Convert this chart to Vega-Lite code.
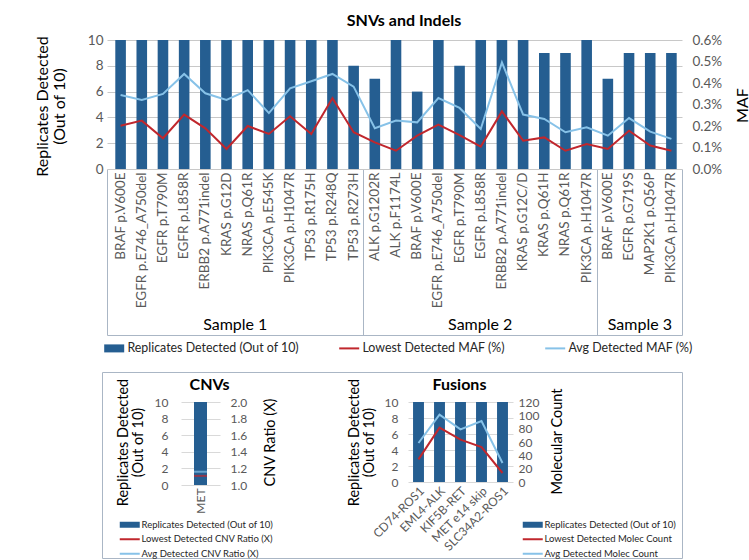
{
  "$schema": "https://vega.github.io/schema/vega-lite/v6.json",
  "width": 749,
  "height": 560,
  "autosize": {"type": "none"},
  "padding": 0,
  "background": "white",
  "config": {
    "font": "Lato",
    "view": {"stroke": null},
    "axis": {"labelFont": "Lato", "titleFont": "Lato", "labelOverlap": false, "grid": false, "labelLimit": 300},
    "legend": {"labelFont": "Lato", "labelLimit": 400}
  },
  "datasets": {
    "snv": [
      {"key": "01|BRAF p.V600E", "sample": "Sample 1", "replicates": 10, "lowest": 0.201, "avg": 0.344},
      {"key": "02|EGFR p.E746_A750del", "sample": "Sample 1", "replicates": 10, "lowest": 0.225, "avg": 0.321},
      {"key": "03|EGFR p.T790M", "sample": "Sample 1", "replicates": 10, "lowest": 0.143, "avg": 0.349},
      {"key": "04|EGFR p.L858R", "sample": "Sample 1", "replicates": 10, "lowest": 0.253, "avg": 0.442},
      {"key": "05|ERBB2 p.A771indel", "sample": "Sample 1", "replicates": 10, "lowest": 0.189, "avg": 0.352},
      {"key": "06|KRAS p.G12D", "sample": "Sample 1", "replicates": 10, "lowest": 0.093, "avg": 0.321},
      {"key": "07|NRAS p.Q61R", "sample": "Sample 1", "replicates": 10, "lowest": 0.2, "avg": 0.367},
      {"key": "08|PIK3CA p.E545K", "sample": "Sample 1", "replicates": 10, "lowest": 0.163, "avg": 0.26},
      {"key": "09|PIK3CA p.H1047R", "sample": "Sample 1", "replicates": 10, "lowest": 0.245, "avg": 0.375},
      {"key": "10|TP53 p.R175H", "sample": "Sample 1", "replicates": 10, "lowest": 0.163, "avg": 0.408},
      {"key": "11|TP53 p.R248Q", "sample": "Sample 1", "replicates": 10, "lowest": 0.329, "avg": 0.442},
      {"key": "12|TP53 p.R273H", "sample": "Sample 1", "replicates": 8, "lowest": 0.171, "avg": 0.383},
      {"key": "13|ALK p.G1202R", "sample": "Sample 2", "replicates": 7, "lowest": 0.124, "avg": 0.19},
      {"key": "14|ALK p.F1174L", "sample": "Sample 2", "replicates": 10, "lowest": 0.085, "avg": 0.225},
      {"key": "15|BRAF p.V600E", "sample": "Sample 2", "replicates": 6, "lowest": 0.155, "avg": 0.217},
      {"key": "16|EGFR p.E746_A750del", "sample": "Sample 2", "replicates": 10, "lowest": 0.206, "avg": 0.33},
      {"key": "17|EGFR p.T790M", "sample": "Sample 2", "replicates": 8, "lowest": 0.158, "avg": 0.284},
      {"key": "18|EGFR p.L858R", "sample": "Sample 2", "replicates": 10, "lowest": 0.104, "avg": 0.186},
      {"key": "19|ERBB2 p.A771indel", "sample": "Sample 2", "replicates": 10, "lowest": 0.268, "avg": 0.496},
      {"key": "20|KRAS p.G12C/D", "sample": "Sample 2", "replicates": 10, "lowest": 0.132, "avg": 0.253},
      {"key": "21|KRAS p.Q61H", "sample": "Sample 2", "replicates": 9, "lowest": 0.147, "avg": 0.233},
      {"key": "22|NRAS p.Q61R", "sample": "Sample 2", "replicates": 9, "lowest": 0.085, "avg": 0.171},
      {"key": "23|PIK3CA p.H1047R", "sample": "Sample 2", "replicates": 10, "lowest": 0.116, "avg": 0.194},
      {"key": "24|BRAF p.V600E", "sample": "Sample 3", "replicates": 7, "lowest": 0.093, "avg": 0.155},
      {"key": "25|EGFR p.G719S", "sample": "Sample 3", "replicates": 9, "lowest": 0.178, "avg": 0.237},
      {"key": "26|MAP2K1 p.Q56P", "sample": "Sample 3", "replicates": 9, "lowest": 0.109, "avg": 0.174},
      {"key": "27|PIK3CA p.H1047R", "sample": "Sample 3", "replicates": 9, "lowest": 0.085, "avg": 0.14}
    ],
    "cnv": [
      {"variant": "MET", "replicates": 10, "lowest": 1.11, "avg": 1.16}
    ],
    "fusion": [
      {"fusion": "CD74-ROS1", "replicates": 10, "lowest": 34, "avg": 58.5},
      {"fusion": "EML4-ALK", "replicates": 10, "lowest": 81.5, "avg": 101},
      {"fusion": "KIF5B-RET", "replicates": 10, "lowest": 63.5, "avg": 79},
      {"fusion": "MET e14 skip", "replicates": 10, "lowest": 52.5, "avg": 91.5},
      {"fusion": "SLC34A2-ROS1", "replicates": 10, "lowest": 13.5, "avg": 28.5}
    ],
    "titles": [{"t": "CNVs"}, {"t": "Fusions"}]
  },
  "layer": [
    {
      "data": {"values": [{}]},
      "mark": {"type": "rect", "filled": false, "stroke": "#aab6c5", "strokeWidth": 1},
      "encoding": {
        "x": {"datum": 0, "type": "quantitative", "scale": {"domain": [0, 1], "range": [102.5, 682.5], "nice": false, "zero": false}, "axis": null},
        "x2": {"datum": 1},
        "y": {"datum": 0, "type": "quantitative", "scale": {"domain": [0, 1], "range": [558.5, 372.5], "nice": false, "zero": false}, "axis": null},
        "y2": {"datum": 1}
      }
    },
    {
      "data": {"name": "snv"},
      "encoding": {
        "x": {
          "field": "key", "type": "nominal",
          "scale": {"range": [110, 682], "paddingInner": 0.5, "paddingOuter": 0.25},
          "axis": {"orient": "bottom", "offset": -391, "title": null, "labelAngle": 270, "labelExpr": "split(datum.label, '|')[1]", "labelFontSize": 13.5, "labelColor": "#595959", "labelPadding": 3, "ticks": false, "tickSize": 0, "domain": false}
        }
      },
      "layer": [
        {
          "mark": {"type": "bar"},
          "encoding": {
            "y": {
              "field": "replicates", "type": "quantitative",
              "scale": {"domain": [0, 10], "range": [169, 40], "nice": false},
              "axis": {"orient": "left", "offset": -682, "values": [0, 2, 4, 6, 8, 10], "tickSize": 575, "tickColor": "#c8c8c8", "domain": false, "labelPadding": 4, "labelFontSize": 13.5, "labelColor": "#595959", "title": ["Replicates Detected", "(Out of 10)"], "titleFontSize": 16, "titleFontWeight": "normal", "titleColor": "#000000", "titleX": -640, "titleY": 106, "titleAngle": 270, "titleAlign": "center", "titleBaseline": "middle", "titleLineHeight": 17}
            },
            "color": {
              "datum": "Replicates Detected (Out of 10)",
              "title": null,
              "scale": {"domain": ["Replicates Detected (Out of 10)", "lowest", "avg"], "range": ["#255e91", "#c0272d", "#87c2e8"]},
              "legend": {
                "orient": "none", "legendX": 108, "legendY": 342, "direction": "horizontal", "title": null, "padding": 0,
                "labelExpr": "datum.label == 'lowest' ? 'Lowest Detected MAF (%)' : datum.label == 'avg' ? 'Avg Detected MAF (%)' : datum.label",
                "labelFontSize": 12.4, "labelColor": "#262626", "symbolSize": 100, "labelOffset": 7, "columnPadding": 36,
                "encode": {"symbols": {"update": {
                  "shape": {"signal": "datum.value == 'lowest' || datum.value == 'avg' ? 'M-2,0H2' : 'M-2,-0.8H2V0.8H-2Z'"},
                  "fill": {"signal": "datum.value == 'lowest' || datum.value == 'avg' ? 'transparent' : '#255e91'"},
                  "stroke": {"signal": "datum.value == 'lowest' ? '#c0272d' : datum.value == 'avg' ? '#87c2e8' : 'transparent'"},
                  "strokeWidth": {"signal": "datum.value == 'lowest' || datum.value == 'avg' ? 2 : 0"},
                  "opacity": {"value": 1}
                }}}
              }
            }
          }
        },
        {
          "transform": [{"fold": ["lowest", "avg"], "as": ["series", "maf"]}],
          "mark": {"type": "line", "strokeWidth": 2},
          "encoding": {
            "y": {
              "field": "maf", "type": "quantitative",
              "scale": {"domain": [0, 0.6], "range": [169, 40], "nice": false, "zero": false},
              "axis": {"orient": "right", "offset": -67, "values": [0, 0.1, 0.2, 0.3, 0.4, 0.5, 0.6], "labelExpr": "format(datum.value, '.1f') + '%'", "ticks": false, "domain": false, "labelPadding": 10, "labelFontSize": 13.5, "labelColor": "#595959", "title": "MAF", "titleFontSize": 16, "titleFontWeight": "normal", "titleColor": "#000000", "titleX": 60, "titleY": 105, "titleAngle": 270, "titleAlign": "center", "titleBaseline": "middle"}
            },
            "color": {"field": "series", "type": "nominal", "title": null}
          }
        }
      ],
      "resolve": {"scale": {"y": "independent"}}
    },
    {
      "data": {"values": [{}]},
      "mark": {"type": "rule", "opacity": 0},
      "encoding": {
        "x": {"datum": 0, "type": "quantitative", "scale": {"domain": [0, 27], "range": [107, 682], "nice": false, "zero": false},
          "axis": {"orient": "top", "offset": -335, "values": [0, 12, 23, 27], "tickSize": 166, "tickColor": "#aab6c5", "domainColor": "#aab6c5", "labels": false, "title": null}}
      }
    },
    {
      "data": {"values": [{}]},
      "mark": {"type": "rule", "opacity": 0},
      "encoding": {
        "x": {"datum": 0, "type": "quantitative", "scale": {"domain": [0, 27], "range": [107, 682], "nice": false, "zero": false},
          "axis": {"orient": "top", "offset": -335, "values": [6, 17.5, 25], "ticks": false, "domain": false, "labelAngle": 0, "labelExpr": "datum.value < 10 ? 'Sample 1' : datum.value < 20 ? 'Sample 2' : 'Sample 3'", "labelFontSize": 16, "labelColor": "#000000", "labelPadding": 3, "title": null}}
      }
    },
    {
      "data": {"values": [{}]},
      "mark": {"type": "point", "opacity": 0},
      "encoding": {
        "x": {"datum": "SNVs and Indels", "type": "nominal", "scale": {"range": [345, 462]},
          "axis": {"orient": "top", "offset": -28, "domain": false, "ticks": false, "labelAngle": 0, "labelAlign": "center", "labelBaseline": "bottom", "labelFontSize": 16, "labelFontWeight": "bold", "labelColor": "#000000", "labelPadding": 0, "title": null}}
      }
    },
    {
      "data": {"name": "titles"},
      "mark": {"type": "point", "opacity": 0},
      "encoding": {
        "x": {"field": "t", "type": "nominal", "scale": {"range": [209, 459], "padding": 0},
          "axis": {"orient": "top", "offset": -392, "domain": false, "ticks": false, "labelAngle": 0, "labelAlign": "center", "labelBaseline": "bottom", "labelFontSize": 16, "labelFontWeight": "bold", "labelColor": "#000000", "labelPadding": 0, "title": null}}
      }
    },
    {
      "data": {"name": "cnv"},
      "encoding": {
        "x": {
          "field": "variant", "type": "nominal",
          "scale": {"range": [181, 220], "paddingInner": 0, "paddingOuter": 0},
          "axis": {"orient": "bottom", "offset": -75, "title": null, "labelAngle": 270, "labelFontSize": 12, "labelColor": "#595959", "labelPadding": 3, "ticks": false, "tickSize": 0, "domain": false}
        }
      },
      "layer": [
        {
          "mark": {"type": "bar", "width": 13},
          "encoding": {
            "y": {
              "field": "replicates", "type": "quantitative",
              "scale": {"domain": [0, 10], "range": [485, 402], "nice": false},
              "axis": {"orient": "left", "offset": -220, "values": [0, 2, 4, 6, 8, 10], "tickSize": 39, "tickColor": "#d9d9d9", "domain": false, "labelPadding": 13, "labelFontSize": 12, "labelColor": "#595959", "title": ["Replicates Detected", "(Out of 10)"], "titleFontSize": 14.5, "titleFontWeight": "normal", "titleColor": "#000000", "titleX": -97, "titleY": 442, "titleAngle": 270, "titleAlign": "center", "titleBaseline": "middle", "titleLineHeight": 15}
            },
            "color": {
              "datum": "Replicates Detected (Out of 10)",
              "title": null,
              "scale": {"domain": ["Replicates Detected (Out of 10)", "lowest", "avg"], "range": ["#255e91", "#c0272d", "#87c2e8"]},
              "legend": {
                "orient": "none", "legendX": 125, "legendY": 520, "direction": "vertical", "title": null, "padding": 0,
                "labelExpr": "datum.label == 'lowest' ? 'Lowest Detected CNV Ratio (X)' : datum.label == 'avg' ? 'Avg Detected CNV Ratio (X)' : datum.label",
                "labelFontSize": 9.5, "labelColor": "#262626", "symbolSize": 100, "labelOffset": 7, "rowPadding": 3.5,
                "encode": {"symbols": {"update": {
                  "shape": {"signal": "datum.value == 'lowest' || datum.value == 'avg' ? 'M-2,0H2' : 'M-2,-0.6H2V0.6H-2Z'"},
                  "fill": {"signal": "datum.value == 'lowest' || datum.value == 'avg' ? 'transparent' : '#255e91'"},
                  "stroke": {"signal": "datum.value == 'lowest' ? '#c0272d' : datum.value == 'avg' ? '#87c2e8' : 'transparent'"},
                  "strokeWidth": {"signal": "datum.value == 'lowest' || datum.value == 'avg' ? 2 : 0"},
                  "opacity": {"value": 1}
                }}}
              }
            }
          }
        },
        {
          "transform": [{"fold": ["lowest", "avg"], "as": ["series", "ratio"]}],
          "mark": {"type": "tick", "thickness": 2, "size": 13},
          "encoding": {
            "y": {
              "field": "ratio", "type": "quantitative",
              "scale": {"domain": [1, 2], "range": [485, 402], "nice": false, "zero": false},
              "axis": {"orient": "right", "offset": -529, "values": [1, 1.2, 1.4, 1.6, 1.8, 2], "format": ".1f", "ticks": false, "domain": false, "labelPadding": 10, "labelFontSize": 12, "labelColor": "#595959", "title": "CNV Ratio (X)", "titleFontSize": 14.5, "titleFontWeight": "normal", "titleColor": "#000000", "titleX": 50, "titleY": 442, "titleAngle": 270, "titleAlign": "center", "titleBaseline": "middle"}
            },
            "color": {"field": "series", "type": "nominal", "title": null}
          }
        }
      ],
      "resolve": {"scale": {"y": "independent"}}
    },
    {
      "data": {"name": "fusion"},
      "encoding": {
        "x": {
          "field": "fusion", "type": "nominal",
          "scale": {"range": [408, 513], "paddingInner": 0.48, "paddingOuter": 0.24},
          "axis": {"orient": "bottom", "offset": -78, "title": null, "labelAngle": 315, "labelFontSize": 12, "labelColor": "#595959", "labelPadding": 3, "ticks": false, "tickSize": 0, "domain": false}
        }
      },
      "layer": [
        {
          "mark": {"type": "bar"},
          "encoding": {
            "y": {
              "field": "replicates", "type": "quantitative",
              "scale": {"domain": [0, 10], "range": [482, 402], "nice": false},
              "axis": {"orient": "left", "offset": -513, "values": [0, 2, 4, 6, 8, 10], "tickSize": 105, "tickColor": "#d9d9d9", "domain": false, "labelPadding": 10, "labelFontSize": 12, "labelColor": "#595959", "title": ["Replicates Detected", "(Out of 10)"], "titleFontSize": 14.5, "titleFontWeight": "normal", "titleColor": "#000000", "titleX": -159, "titleY": 442, "titleAngle": 270, "titleAlign": "center", "titleBaseline": "middle", "titleLineHeight": 15}
            },
            "color": {
              "datum": "Replicates Detected (Out of 10)",
              "title": null,
              "scale": {"domain": ["Replicates Detected (Out of 10)", "lowest", "avg"], "range": ["#255e91", "#c0272d", "#87c2e8"]},
              "legend": {
                "orient": "none", "legendX": 528, "legendY": 520, "direction": "vertical", "title": null, "padding": 0,
                "labelExpr": "datum.label == 'lowest' ? 'Lowest Detected Molec Count' : datum.label == 'avg' ? 'Avg Detected Molec Count' : datum.label",
                "labelFontSize": 9.5, "labelColor": "#262626", "symbolSize": 100, "labelOffset": 7, "rowPadding": 3.5,
                "encode": {"symbols": {"update": {
                  "shape": {"signal": "datum.value == 'lowest' || datum.value == 'avg' ? 'M-2,0H2' : 'M-2,-0.6H2V0.6H-2Z'"},
                  "fill": {"signal": "datum.value == 'lowest' || datum.value == 'avg' ? 'transparent' : '#255e91'"},
                  "stroke": {"signal": "datum.value == 'lowest' ? '#c0272d' : datum.value == 'avg' ? '#87c2e8' : 'transparent'"},
                  "strokeWidth": {"signal": "datum.value == 'lowest' || datum.value == 'avg' ? 2 : 0"},
                  "opacity": {"value": 1}
                }}}
              }
            }
          }
        },
        {
          "transform": [{"fold": ["lowest", "avg"], "as": ["series", "count"]}],
          "mark": {"type": "line", "strokeWidth": 2},
          "encoding": {
            "y": {
              "field": "count", "type": "quantitative",
              "scale": {"domain": [0, 120], "range": [482, 402], "nice": false, "zero": false},
              "axis": {"orient": "right", "offset": -236, "values": [0, 20, 40, 60, 80, 100, 120], "ticks": false, "domain": false, "labelPadding": 5, "labelFontSize": 12, "labelColor": "#595959", "title": "Molecular Count", "titleFontSize": 14.5, "titleFontWeight": "normal", "titleColor": "#000000", "titleX": 44, "titleY": 441, "titleAngle": 270, "titleAlign": "center", "titleBaseline": "middle"}
            },
            "color": {"field": "series", "type": "nominal", "title": null}
          }
        }
      ],
      "resolve": {"scale": {"y": "independent"}}
    }
  ],
  "resolve": {
    "scale": {"x": "independent", "y": "independent", "color": "independent"},
    "axis": {"x": "independent", "y": "independent"},
    "legend": {"color": "independent"}
  }
}
